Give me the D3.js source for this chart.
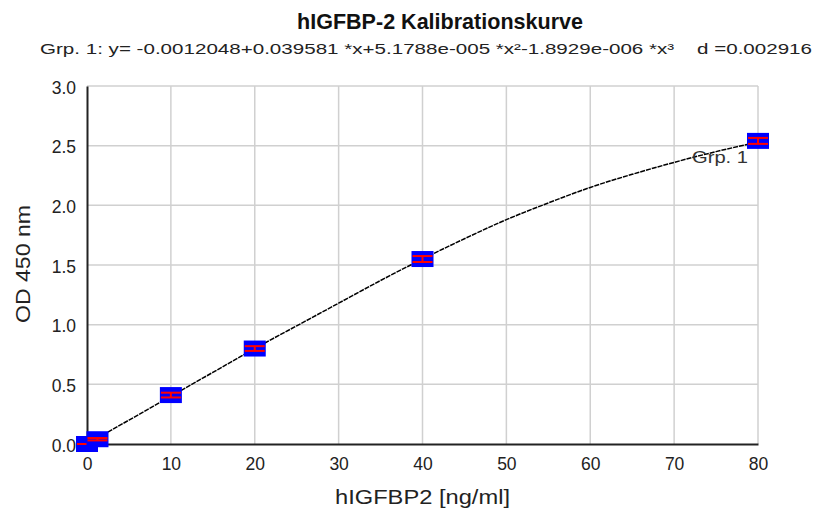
<!DOCTYPE html>
<html>
<head>
<meta charset="utf-8">
<script src="https://cdn.jsdelivr.net/npm/d3@7"></script>
<style>
  body { margin: 0; background: #fff; }
  text { font-family: "Liberation Sans", Arial, sans-serif; }
</style>
</head>
<body>
<div id="chart"></div>
<script>
// standards (conc, mean OD, +/- error)
var conc = [0, 1.25, 10, 20, 40, 80];
var od = [0.0, 0.04, 0.41, 0.80, 1.55, 2.54];
var err = [0.0, 0.01, 0.02, 0.02, 0.025, 0.025];

// fitted curve
var curveX = [0, 1.25, 5, 10, 15, 20, 25, 30, 35, 40, 45, 50, 55, 60, 65, 70, 75, 80];
var curveY = [0.0, 0.05, 0.2, 0.40, 0.60, 0.80, 0.99, 1.18, 1.37, 1.55, 1.72, 1.88, 2.02, 2.15, 2.26, 2.36, 2.45, 2.53];

var xTicks = [0, 10, 20, 30, 40, 50, 60, 70, 80];
var yTicks = [0, 0.5, 1.0, 1.5, 2.0, 2.5, 3.0];

var title = "hIGFBP-2 Kalibrationskurve";
var subtitle = "Grp. 1: y= -0.0012048+0.039581 *x+5.1788e-005 *x²-1.8929e-006 *x³    d =0.002916";

var width = 816, height = 509;
var svg = d3.select("#chart").append("svg")
    .attr("width", width)
    .attr("height", height);

var x = d3.scaleLinear().domain([0, 80]).range([87, 758]);
var y = d3.scaleLinear().domain([0, 3]).range([444, 86]);

// grid
svg.append("g").selectAll("line").data(xTicks.slice(1)).enter().append("line")
    .attr("x1", d => x(d)).attr("x2", d => x(d))
    .attr("y1", y(3)).attr("y2", y(0))
    .attr("stroke", "#d0d0d0").attr("stroke-width", 1.5);
svg.append("g").selectAll("line").data(yTicks.slice(1)).enter().append("line")
    .attr("x1", x(0)).attr("x2", x(80))
    .attr("y1", d => y(d)).attr("y2", d => y(d))
    .attr("stroke", "#d0d0d0").attr("stroke-width", 1.5);

// axes
var xAxis = svg.append("g").attr("transform", "translate(0," + y(0) + ")")
    .call(d3.axisBottom(x).tickValues(xTicks).tickSize(0).tickPadding(14).tickFormat(d3.format("d")));
var yAxis = svg.append("g").attr("transform", "translate(" + x(0) + ",0)")
    .call(d3.axisLeft(y).tickValues(yTicks).tickSize(0).tickPadding(11).tickFormat(d3.format(".1f")));
[xAxis, yAxis].forEach(function(a) {
  a.select(".domain").attr("stroke", "#222").attr("stroke-width", 2);
  a.selectAll("text").attr("font-size", 17.5).attr("fill", "#222")
    .style("font-family", "'Liberation Sans', Arial, sans-serif");
});
yAxis.selectAll("text").attr("dy", "0.4em");

// fitted curve
var line = d3.line().x((d, i) => x(curveX[i])).y(d => y(d)).curve(d3.curveMonotoneX);
svg.append("path").datum(curveY)
    .attr("d", line)
    .attr("fill", "none")
    .attr("stroke", "#000")
    .attr("stroke-width", 1.5)
    .attr("stroke-dasharray", "5,1");

// markers
var pts = svg.append("g").selectAll("g").data(conc).enter().append("g");
pts.append("rect")
    .attr("x", d => x(d) - 11).attr("y", (d, i) => y(od[i]) - 8)
    .attr("width", 22).attr("height", 16)
    .attr("fill", "#0000ff");
pts.append("line")
    .attr("x1", d => x(d) - 10).attr("x2", d => x(d) + 10)
    .attr("y1", (d, i) => y(od[i] + err[i])).attr("y2", (d, i) => y(od[i] + err[i]))
    .attr("stroke", "#ff0000").attr("stroke-width", 2);
pts.append("line")
    .attr("x1", d => x(d) - 10).attr("x2", d => x(d) + 10)
    .attr("y1", (d, i) => y(od[i] - err[i])).attr("y2", (d, i) => y(od[i] - err[i]))
    .attr("stroke", "#ff0000").attr("stroke-width", 2);
pts.append("line")
    .attr("x1", d => x(d)).attr("x2", d => x(d))
    .attr("y1", (d, i) => y(od[i] + err[i])).attr("y2", (d, i) => y(od[i] - err[i]))
    .attr("stroke", "#ff0000").attr("stroke-width", 2);

// group label
svg.append("text")
    .attr("x", 692).attr("y", y(2.53) + 21)
    .attr("font-size", 16).attr("fill", "#333")
    .attr("textLength", 56).attr("lengthAdjust", "spacingAndGlyphs")
    .text("Grp. 1");

// titles
svg.append("text")
    .attr("x", 297).attr("y", 29)
    .attr("font-size", 22).attr("font-weight", "bold")
    .attr("fill", "#111")
    .attr("textLength", 286).attr("lengthAdjust", "spacingAndGlyphs")
    .text(title);
svg.append("text")
    .attr("x", 40).attr("y", 54)
    .attr("font-size", 15).attr("fill", "#222")
    .style("white-space", "pre")
    .attr("textLength", 772).attr("lengthAdjust", "spacingAndGlyphs")
    .text(subtitle);

svg.append("text")
    .attr("x", 335).attr("y", 504)
    .attr("font-size", 20).attr("fill", "#222")
    .attr("textLength", 175).attr("lengthAdjust", "spacingAndGlyphs")
    .text("hIGFBP2 [ng/ml]");
svg.append("text")
    .attr("transform", "translate(30,264) rotate(-90)")
    .attr("text-anchor", "middle")
    .attr("font-size", 20).attr("fill", "#222")
    .attr("textLength", 118).attr("lengthAdjust", "spacingAndGlyphs")
    .text("OD 450 nm");
</script>
</body>
</html>
